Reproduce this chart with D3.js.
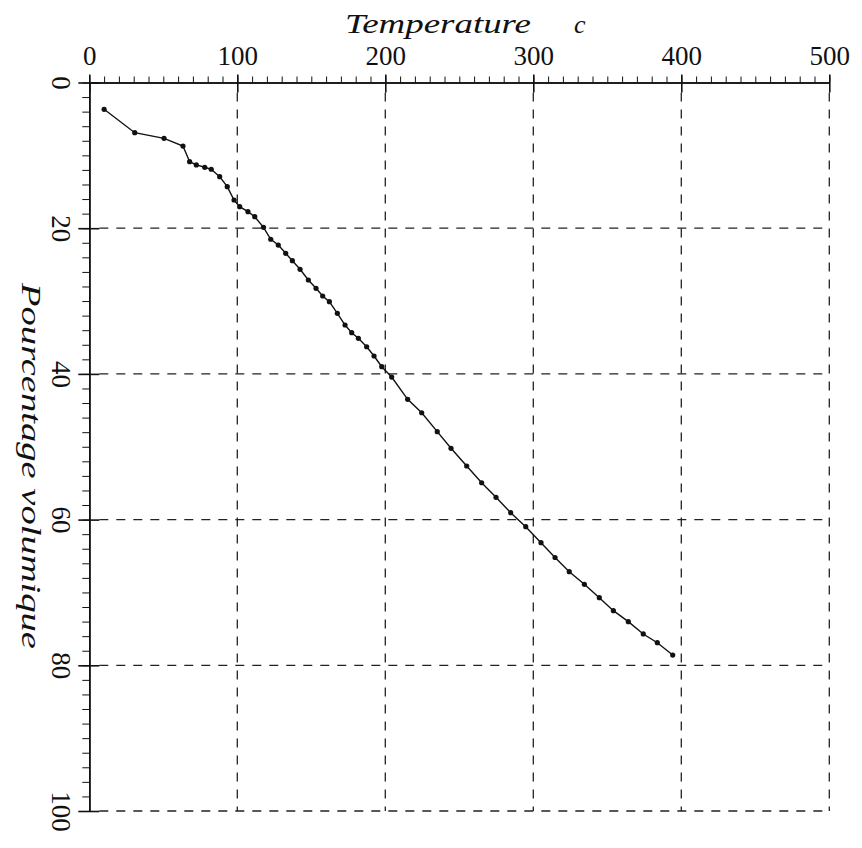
<!DOCTYPE html>
<html>
<head>
<meta charset="utf-8">
<script src="https://cdn.jsdelivr.net/npm/d3@7"></script>
<style>
  html, body { margin: 0; padding: 0; background: #fff; }
  svg { display: block; }
</style>
</head>
<body>
<svg id="chart" width="862" height="848"></svg>
<script>
// ---- data ----
const temperature = [10, 30.7, 50.5, 63.3, 67.8, 72.3, 78, 82.4, 88.1, 93.2, 97.8, 101.6, 107.2, 111.8, 117.7,
  122.6, 127.7, 132.7, 137.2, 142.4, 148, 153.2, 157.7, 162.2, 167.6, 172.8, 177.3, 181.8, 187.4, 192.4,
  197.6, 204.3, 215.1, 224.6, 235.1, 244.4, 255, 265.1, 274.8, 284.7, 294.9, 305.2, 314.7, 324.3, 334.5,
  344.6, 354.1, 364.2, 374.3, 383.8, 394.2];
const volumePct = [3.68, 6.89, 7.66, 8.72, 10.87, 11.32, 11.64, 11.91, 12.93, 14.3, 16.13, 17.05, 17.73, 18.42, 19.88,
  21.52, 22.31, 23.45, 24.46, 25.64, 27.11, 28.25, 29.31, 30.09, 31.68, 33.29, 34.34, 35.11, 36.27, 37.54,
  39.01, 40.43, 43.49, 45.33, 47.93, 50.21, 52.64, 54.94, 56.94, 59.05, 60.97, 63.17, 65.2, 67.15, 68.88,
  70.72, 72.5, 74.01, 75.7, 76.9, 78.59];
const xTicks = [0, 100, 200, 300, 400, 500];
const yTicks = [0, 20, 40, 60, 80, 100];
const xTitle = "Temperature";
const xUnit = "c";
const yTitle = "Pourcentage volumique";

// ---- layout ----
const svg = d3.select("#chart");
const x = d3.scaleLinear().domain([0, 500]).range([89.3, 829.3]);
const y = d3.scaleLinear().domain([0, 100]).range([82.5, 811]);
const FONT = '"Liberation Serif", "DejaVu Serif", "Noto Serif", Tinos, "Times New Roman", Times, serif';
const ink = "#111";

// grid (dashed)
const grid = svg.append("g").attr("stroke", "#222").attr("stroke-width", 1.3)
  .attr("stroke-dasharray", "9,8").attr("fill", "none");
grid.selectAll("line.v").data(xTicks.filter(d => d > 0)).join("line")
  .attr("class", "v")
  .attr("x1", d => x(d)).attr("x2", d => x(d))
  .attr("y1", y(0) + 10).attr("y2", y(100));
grid.selectAll("line.h").data(yTicks.filter(d => d > 0)).join("line")
  .attr("class", "h")
  .attr("x1", x(0) + 10).attr("x2", x(500))
  .attr("y1", d => y(d)).attr("y2", d => y(d));

// top axis: minor ticks
const xMinor = d3.axisTop(x).tickValues(d3.range(0, 501, 10)).tickSize(6).tickSizeOuter(0).tickFormat("");
svg.append("g").attr("transform", `translate(0,${y(0)})`).call(xMinor);
// top axis: major ticks + labels
const xMajor = d3.axisTop(x).tickValues(xTicks).tickSize(8).tickSizeOuter(0).tickPadding(9.5).tickFormat(d3.format("d"));
const gx = svg.append("g").attr("transform", `translate(0,${y(0)})`).call(xMajor);
gx.attr("font-family", FONT).attr("font-size", 27);
gx.selectAll(".tick line").attr("y1", 10).attr("stroke-width", 1.6);
gx.selectAll(".tick text").attr("fill", ink);

// left axis: minor ticks
const yMinor = d3.axisLeft(y).tickValues(d3.range(0, 101, 2)).tickSize(7).tickSizeOuter(0).tickFormat("");
svg.append("g").attr("transform", `translate(${x(0)},0)`).call(yMinor);
// left axis: major ticks + rotated labels
const yMajor = d3.axisLeft(y).tickValues(yTicks).tickSize(11).tickSizeOuter(0).tickFormat(d3.format("d"));
const gy = svg.append("g").attr("transform", `translate(${x(0)},0)`).call(yMajor);
gy.attr("font-family", FONT).attr("font-size", 27);
gy.selectAll(".tick line").attr("x1", 10).attr("stroke-width", 1.6);
gy.selectAll(".tick text")
  .attr("x", null).attr("dy", "0.35em")
  .attr("text-anchor", "middle")
  .attr("transform", "translate(-28,0) rotate(90)")
  .attr("fill", ink);

svg.selectAll(".domain").attr("stroke", ink).attr("stroke-width", 1.6);
svg.selectAll(".tick line").attr("stroke", ink);

// titles
const titles = svg.append("g").attr("font-family", FONT).attr("font-style", "italic").attr("fill", ink);
titles.append("text")
  .attr("x", 345).attr("y", 33).attr("font-size", 28)
  .attr("textLength", 186).attr("lengthAdjust", "spacingAndGlyphs")
  .text(xTitle);
titles.append("text")
  .attr("x", 574).attr("y", 33).attr("font-size", 26)
  .text(xUnit);
titles.append("text")
  .attr("transform", "translate(22,466) rotate(90)")
  .attr("text-anchor", "middle").attr("font-size", 28)
  .attr("textLength", 366).attr("lengthAdjust", "spacingAndGlyphs")
  .text(yTitle);

// data line + markers
const pts = temperature.map((t, i) => [t, volumePct[i]]);
svg.append("path")
  .datum(pts)
  .attr("fill", "none").attr("stroke", ink).attr("stroke-width", 1.4)
  .attr("d", d3.line().x(d => x(d[0])).y(d => y(d[1])));
svg.append("g").selectAll("circle").data(pts).join("circle")
  .attr("cx", d => x(d[0])).attr("cy", d => y(d[1])).attr("r", 2.6).attr("fill", ink);
</script>
</body>
</html>
